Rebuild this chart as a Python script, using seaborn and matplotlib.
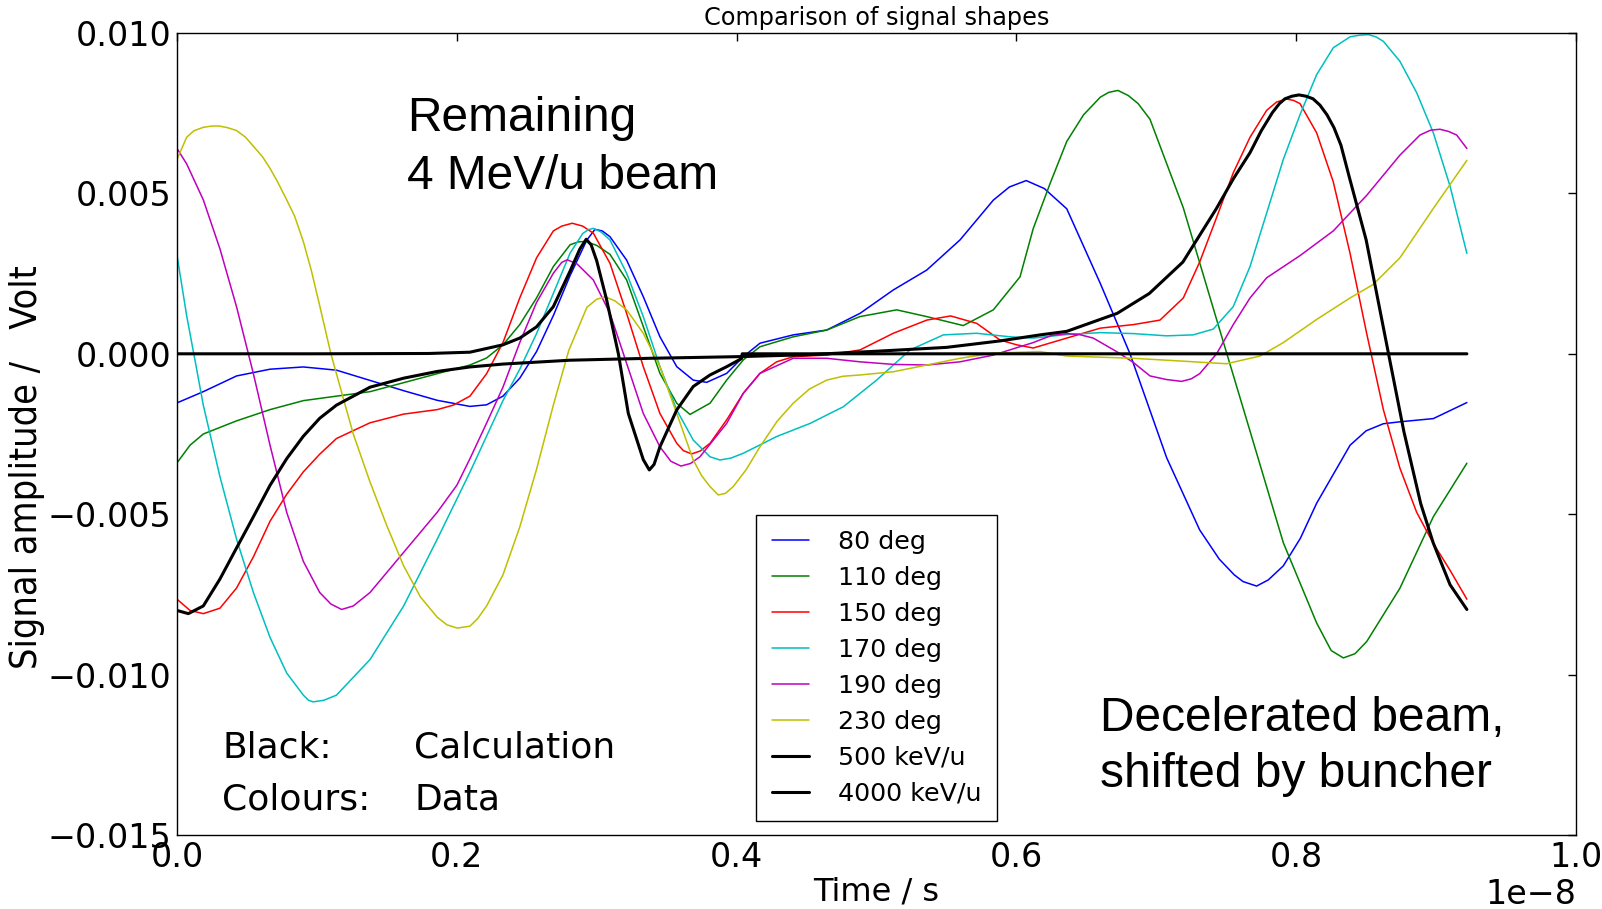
import numpy as np
import pandas as pd
import matplotlib
matplotlib.use("Agg")
import matplotlib.pyplot as plt
from matplotlib import font_manager
from matplotlib.ticker import MultipleLocator
import seaborn as sns

# ---- measured pickup signals: time in ns, amplitude in mV ----
t_80 = [0, 0.188, 0.426, 0.665, 0.903, 1.14, 1.38, 1.62, 1.86, 2.094, 2.213, 2.33, 2.45, 2.57,
        2.69, 2.81, 2.93, 2.988, 3.04, 3.095, 3.214, 3.333, 3.452, 3.572, 3.69, 3.786, 3.929,
        4.048, 4.167, 4.405, 4.644, 4.882, 5.12, 5.359, 5.597, 5.835, 5.95, 6.07, 6.20, 6.36,
        6.60, 6.812, 7.074, 7.31, 7.45, 7.557, 7.62, 7.717, 7.80, 7.908, 8.03, 8.146, 8.385,
        8.50, 8.623, 8.741, 8.98, 9.22]
v_80 = [-1.53, -1.18, -0.69, -0.48, -0.41, -0.51, -0.83, -1.15, -1.45, -1.64, -1.59, -1.32, -0.76,
        0.07, 1.19, 2.44, 3.55, 3.88, 3.83, 3.65, 2.92, 1.78, 0.53, -0.40, -0.82, -0.89, -0.61,
        -0.09, 0.33, 0.59, 0.74, 1.26, 1.99, 2.61, 3.55, 4.79, 5.20, 5.40, 5.15, 4.52, 2.19, 0.0,
        -3.24, -5.49, -6.40, -6.89, -7.10, -7.24, -7.05, -6.61, -5.75, -4.66, -2.85, -2.40,
        -2.18, -2.12, -2.02, -1.52]

t_110 = [0, 0.093, 0.188, 0.426, 0.665, 0.903, 1.14, 1.38, 1.62, 1.86, 2.094, 2.213, 2.33, 2.45,
         2.57, 2.69, 2.81, 2.87, 2.92, 3.00, 3.095, 3.214, 3.333, 3.452, 3.572, 3.667, 3.81, 3.929,
         4.048, 4.167, 4.405, 4.644, 4.882, 5.144, 5.359, 5.62, 5.835, 6.026, 6.12, 6.24, 6.36,
         6.48, 6.60, 6.66, 6.726, 6.80, 6.87, 6.955, 7.193, 7.431, 7.67, 7.908, 8.146, 8.25, 8.337,
         8.42, 8.504, 8.741, 8.98, 9.22]
v_110 = [-3.40, -2.85, -2.50, -2.09, -1.74, -1.46, -1.32, -1.18, -0.90, -0.62, -0.35, -0.13, 0.28,
         0.91, 1.74, 2.72, 3.40, 3.49, 3.50, 3.38, 3.10, 2.30, 0.85, -0.61, -1.54, -1.89, -1.54,
         -0.82, -0.19, 0.22, 0.53, 0.74, 1.16, 1.37, 1.16, 0.88, 1.37, 2.40, 3.90, 5.30, 6.62,
         7.45, 8.00, 8.15, 8.21, 8.05, 7.80, 7.31, 4.55, 1.07, -2.41, -5.89, -8.39, -9.25, -9.48,
         -9.35, -8.97, -7.31, -5.08, -3.41]

t_150 = [0, 0.093, 0.188, 0.307, 0.426, 0.546, 0.665, 0.784, 0.903, 1.02, 1.14, 1.38, 1.62, 1.86,
         1.975, 2.094, 2.213, 2.33, 2.45, 2.57, 2.69, 2.75, 2.825, 2.90, 2.976, 3.095, 3.214, 3.333,
         3.452, 3.572, 3.62, 3.679, 3.74, 3.81, 3.929, 4.048, 4.167, 4.286, 4.405, 4.644, 4.882,
         5.12, 5.359, 5.53, 5.716, 5.883, 6.002, 6.12, 6.36, 6.60, 6.836, 7.026, 7.193, 7.31,
         7.431, 7.55, 7.67, 7.789, 7.86, 7.932, 7.98, 8.027, 8.146, 8.265, 8.385, 8.504, 8.623,
         8.741, 8.861, 8.98, 9.10, 9.22]
v_150 = [-7.65, -8.00, -8.10, -7.93, -7.30, -6.33, -5.22, -4.38, -3.68, -3.13, -2.64, -2.15, -1.88,
         -1.74, -1.60, -1.32, -0.62, 0.35, 1.74, 2.99, 3.83, 3.98, 4.07, 3.98, 3.76, 2.82, 1.26,
         -0.40, -1.86, -2.79, -3.02, -3.12, -3.03, -2.79, -2.06, -1.23, -0.61, -0.25, -0.09, -0.04,
         0.12, 0.64, 1.05, 1.18, 0.95, 0.43, 0.28, 0.18, 0.49, 0.80, 0.91, 1.05, 1.74, 2.86, 4.25,
         5.64, 6.75, 7.59, 7.85, 7.94, 7.90, 7.80, 6.89, 5.36, 3.13, 0.63, -1.74, -3.56, -4.94,
         -5.91, -6.75, -7.65]

t_170 = [0, 0.069, 0.141, 0.188, 0.307, 0.426, 0.546, 0.665, 0.784, 0.903, 0.94, 0.974, 1.05,
         1.14, 1.38, 1.62, 1.86, 2.094, 2.33, 2.45, 2.57, 2.69, 2.81, 2.90, 2.94, 2.976, 3.03,
         3.095, 3.214, 3.333, 3.452, 3.572, 3.69, 3.81, 3.881, 3.96, 4.048, 4.286, 4.525, 4.763,
         5.001, 5.24, 5.478, 5.716, 5.954, 6.12, 6.36, 6.60, 6.836, 7.074, 7.264, 7.407, 7.55,
         7.67, 7.789, 7.908, 8.027, 8.146, 8.265, 8.385, 8.45, 8.516, 8.57, 8.623, 8.741, 8.861,
         8.98, 9.10, 9.22]
v_170 = [3.07, 1.19, -0.49, -1.60, -3.83, -5.78, -7.44, -8.84, -9.95, -10.64, -10.80, -10.85,
         -10.80, -10.64, -9.53, -7.86, -5.78, -3.69, -1.46, -0.48, 0.63, 1.88, 3.14, 3.75, 3.87,
         3.91, 3.80, 3.55, 2.51, 1.16, -0.40, -1.75, -2.69, -3.21, -3.31, -3.25, -3.10, -2.58,
         -2.17, -1.65, -0.82, 0.12, 0.59, 0.64, 0.53, 0.49, 0.60, 0.66, 0.63, 0.56, 0.59, 0.77,
         1.47, 2.72, 4.39, 6.06, 7.45, 8.70, 9.54, 9.88, 9.93, 9.95, 9.88, 9.74, 9.12, 8.14, 6.89,
         5.22, 3.13]

t_190 = [0, 0.069, 0.188, 0.307, 0.426, 0.546, 0.665, 0.784, 0.903, 1.02, 1.10, 1.177, 1.26, 1.38,
         1.62, 1.86, 2.00, 2.094, 2.213, 2.33, 2.45, 2.57, 2.69, 2.75, 2.79, 2.86, 2.976, 3.095,
         3.214, 3.333, 3.452, 3.53, 3.602, 3.67, 3.738, 3.929, 4.048, 4.167, 4.405, 4.644, 4.882,
         5.12, 5.359, 5.597, 5.835, 6.12, 6.25, 6.36, 6.45, 6.549, 6.716, 6.836, 6.955, 7.07,
         7.181, 7.25, 7.31, 7.431, 7.55, 7.67, 7.789, 8.027, 8.265, 8.504, 8.741, 8.885, 8.96,
         9.027, 9.09, 9.147, 9.22]
v_190 = [6.40, 5.92, 4.80, 3.27, 1.46, -0.62, -2.85, -4.94, -6.47, -7.44, -7.80, -7.97, -7.86,
         -7.44, -6.19, -4.94, -4.10, -3.27, -2.16, -1.04, 0.35, 1.60, 2.51, 2.85, 2.93, 2.80, 2.30,
         1.26, -0.30, -1.86, -2.90, -3.35, -3.50, -3.42, -3.21, -2.17, -1.23, -0.61, -0.14, -0.14,
         -0.25, -0.33, -0.35, -0.25, -0.04, 0.35, 0.57, 0.63, 0.60, 0.49, 0.07, -0.27, -0.69,
         -0.80, -0.86, -0.78, -0.62, 0.00, 0.91, 1.74, 2.37, 3.06, 3.83, 4.94, 6.19, 6.82, 6.97,
         7.00, 6.93, 6.82, 6.40]

t_230 = [0, 0.069, 0.12, 0.188, 0.25, 0.302, 0.36, 0.426, 0.49, 0.546, 0.61, 0.665, 0.72, 0.784,
         0.84, 0.903, 0.96, 1.02, 1.10, 1.26, 1.38, 1.50, 1.62, 1.74, 1.86, 1.93, 2.004, 2.094,
         2.15, 2.213, 2.33, 2.45, 2.57, 2.69, 2.80, 2.93, 3.00, 3.06, 3.13, 3.214, 3.333, 3.452,
         3.572, 3.69, 3.75, 3.81, 3.869, 3.92, 3.976, 4.07, 4.167, 4.29, 4.405, 4.52, 4.644, 4.76,
         4.882, 5.12, 5.359, 5.597, 5.835, 6.169, 6.36, 6.836, 7.193, 7.502, 7.741, 7.908, 8.146,
         8.385, 8.55, 8.741, 8.98, 9.22]
v_230 = [6.06, 6.75, 6.95, 7.06, 7.10, 7.10, 7.05, 6.96, 6.75, 6.47, 6.15, 5.78, 5.35, 4.80,
         4.30, 3.50, 2.60, 1.50, 0.00, -2.50, -4.00, -5.36, -6.61, -7.58, -8.21, -8.45, -8.55,
         -8.49, -8.25, -7.86, -6.89, -5.40, -3.60, -1.60, 0.10, 1.45, 1.70, 1.78, 1.65, 1.37, 0.64,
         -0.40, -1.86, -3.31, -3.80, -4.14, -4.40, -4.35, -4.14, -3.60, -2.90, -2.10, -1.54, -1.10,
         -0.82, -0.70, -0.66, -0.56, -0.35, -0.14, 0.02, 0.07, -0.07, -0.14, -0.23, -0.31, -0.07,
         0.35, 1.07, 1.74, 2.16, 2.99, 4.53, 6.03]

# ---- calculated signals (ns, mV) ----
t_500k = [0, 0.081, 0.188, 0.307, 0.426, 0.546, 0.665, 0.784, 0.903, 1.02, 1.14, 1.38, 1.62, 1.86,
          2.094, 2.33, 2.81, 3.38, 4.00, 4.50, 5.00, 5.50, 5.88, 6.17, 6.36, 6.72, 6.95, 7.19,
          7.43, 7.55, 7.67, 7.75, 7.83, 7.88, 7.92, 7.97, 8.02, 8.07, 8.12, 8.17, 8.22, 8.27, 8.32,
          8.38, 8.50, 8.66, 8.77, 8.89, 8.98, 9.10, 9.22]
v_500k = [-8.00, -8.10, -7.86, -7.02, -6.05, -5.08, -4.10, -3.27, -2.57, -2.01, -1.60, -1.04, -0.76,
          -0.55, -0.41, -0.32, -0.20, -0.14, -0.09, -0.03, 0.08, 0.20, 0.40, 0.59, 0.70, 1.26, 1.88,
          2.86, 4.53, 5.45, 6.27, 6.95, 7.52, 7.80, 7.95, 8.03, 8.07, 8.03, 7.95, 7.75, 7.45, 7.05,
          6.50, 5.50, 3.55, 0.00, -2.43, -4.67, -5.90, -7.20, -7.97]

t_4000k = [0, 1.00, 1.80, 2.094, 2.33, 2.45, 2.57, 2.69, 2.81, 2.88, 2.925, 2.96, 3.00, 3.07,
           3.155, 3.226, 3.333, 3.376, 3.41, 3.452, 3.572, 3.69, 3.81, 3.93, 4.035, 4.04, 9.22]
v_4000k = [0, 0, 0.01, 0.05, 0.28, 0.49, 0.84, 1.47, 2.58, 3.27, 3.57, 3.40, 2.90, 1.70, 0.00,
           -1.86, -3.30, -3.62, -3.45, -2.90, -1.75, -1.02, -0.66, -0.40, -0.15, 0.00, 0.00]

labels = ["80 deg", "110 deg", "150 deg", "170 deg", "190 deg", "230 deg",
          "500 keV/u", "4000 keV/u"]
times = [t_80, t_110, t_150, t_170, t_190, t_230, t_500k, t_4000k]
values = [v_80, v_110, v_150, v_170, v_190, v_230, v_500k, v_4000k]
colors = ["#0000ff", "#008000", "#ff0000", "#00bfbf", "#bf00bf", "#bfbf00", "black", "black"]
widths = [1.1, 1.1, 1.1, 1.1, 1.1, 1.1, 2.2, 2.2]

frames = []
for name, t, v in zip(labels, times, values):
    frames.append(pd.DataFrame({"time": np.asarray(t) * 1e-9,
                                "amp": np.asarray(v) * 1e-3,
                                "series": name}))
df = pd.concat(frames, ignore_index=True)

sns.set_style("white")
plt.rcParams["font.family"] = ["DejaVu Sans"]
plt.rcParams["axes.unicode_minus"] = True
for key in ("text.color", "axes.labelcolor", "xtick.color", "ytick.color", "axes.edgecolor"):
    plt.rcParams[key] = "black"

# a narrow sans face for the vertical axis caption, if one is installed
ylab_font = {"family": "Liberation Sans"}
fonts = font_manager.fontManager.ttflist
if any(f.name == "Liberation Sans Narrow" for f in fonts):
    ylab_font = {"family": "Liberation Sans Narrow"}
elif any(f.name == "DejaVu Sans" and f.stretch == "condensed" for f in fonts):
    ylab_font = {"family": "DejaVu Sans", "stretch": "condensed"}

W, H = 1602, 909
fig = plt.figure(figsize=(W / 100, H / 100), dpi=100)
ax = fig.add_axes([177 / W, 74 / H, 1399 / W, 802 / H])

for name, col, lw in zip(labels, colors, widths):
    sub = df[df["series"] == name]
    sns.lineplot(data=sub, x="time", y="amp", color=col, linewidth=lw, label=name,
                 ax=ax, sort=False, estimator=None)

ax.set_xlim(0, 1e-8)
ax.set_ylim(-0.015, 0.010)
ax.xaxis.set_major_locator(MultipleLocator(0.2e-8))
ax.yaxis.set_major_locator(MultipleLocator(0.005))
ax.ticklabel_format(axis="x", style="sci", scilimits=(-8, -8))
ax.tick_params(direction="in", length=6, width=1, top=True, right=True,
               labelsize=24, pad=4)
for s in ax.spines.values():
    s.set_visible(True)
    s.set_color("black")
    s.set_linewidth(1.0)
ax.xaxis.get_offset_text().set_fontsize(24)

ax.set_title("Comparison of signal shapes", fontsize=17.3, pad=6)
ax.set_xlabel("Time / s", fontsize=23, labelpad=2)
ax.set_ylabel("")

handles, labs = ax.get_legend_handles_labels()
leg = ax.legend(handles, labs, loc="lower center", fontsize=18.3, frameon=True,
                fancybox=False, edgecolor="black", framealpha=1.0, handlelength=1.45,
                handletextpad=1.15, borderaxespad=0.55, borderpad=0.6, labelspacing=0.47)
leg.get_frame().set_linewidth(1.0)


def px(x, y):
    return x / W, 1 - y / H


# annotation texts
fig.text(*px(407, 131), "Remaining", family="Liberation Sans", fontsize=34.5, va="baseline")
fig.text(*px(407, 189), "4 MeV/u beam", family="Liberation Sans", fontsize=34.5, va="baseline")
fig.text(*px(1100, 731), "Decelerated beam,", family="Liberation Sans", fontsize=34.5,
         va="baseline")
fig.text(*px(1100, 787), "shifted by buncher", family="Liberation Sans", fontsize=34.5,
         va="baseline")
fig.text(*px(222, 758), "Black:", fontsize=26, va="baseline")
fig.text(*px(414, 758), "Calculation", fontsize=26, va="baseline")
fig.text(*px(222, 809), "Colours:", fontsize=26, va="baseline")
fig.text(*px(414, 809), "Data", fontsize=26, va="baseline")

ylab = fig.text(*px(27, 467), "Signal amplitude /   Volt", fontsize=27,
                rotation=90, ha="center", va="center", **ylab_font)
fig.canvas.draw()
ext = ylab.get_window_extent(fig.canvas.get_renderer())
ylab.set_fontsize(27 * 403 / ext.height)

fig.savefig("out.png", dpi=100)
